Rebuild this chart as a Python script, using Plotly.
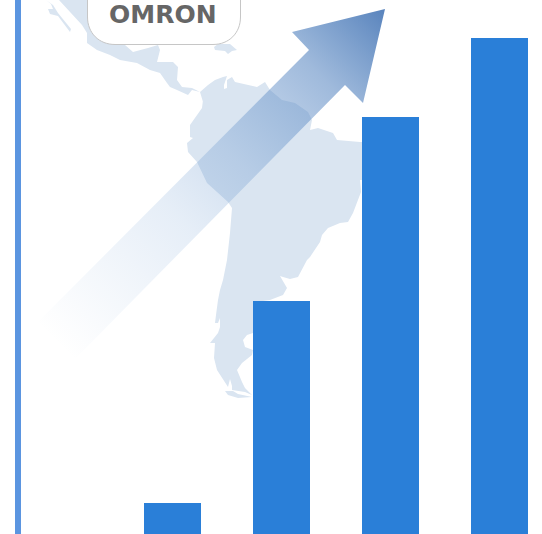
import base64
import plotly.graph_objects as go

WIDTH, HEIGHT = 542, 534

# Bars
categories = ["A", "B", "C", "D"]
values = [31, 233, 417, 496]
BAR_COLOR = "#2A7FD8"

# Map outlines, in canvas units
mainland_x = [59, 73, 82, 87, 87, 97, 110, 120, 137, 150, 160, 167, 170, 177, 183, 188, 192, 200, 203, 203,
              202, 193, 190, 190, 193, 187, 188, 197, 202, 207, 217, 228, 232, 230, 227, 223, 220, 218, 216, 215,
              218, 220, 220, 218, 214, 210, 215, 214, 217, 222, 226, 228, 230, 232, 232, 245, 252, 245, 242, 237,
              242, 252, 253, 245, 243, 247, 253, 253, 256, 256, 270, 283, 287, 280, 283, 290, 298, 303, 307,
              310, 315, 320, 322, 328, 340, 348, 353, 357, 361, 360, 375, 375, 360, 337, 333, 318, 310, 312, 308,
              295, 282, 270, 265, 257, 247, 235, 232, 227, 227, 224, 224, 227, 223, 215, 208, 203, 200, 192, 182,
              177, 178, 173, 157, 160, 158, 148, 133, 125, 110, 100]
mainland_y = [0, 15, 25, 33, 43, 50, 55, 60, 63, 70, 73, 83, 87, 90, 93, 95, 90, 92, 102, 100,
              108, 120, 125, 137, 138, 143, 152, 162, 173, 183, 192, 202, 208, 233, 260, 280, 290, 300, 315, 323,
              323, 318, 327, 333, 338, 343, 343, 358, 370, 378, 385, 387, 379, 386, 390, 392, 395, 388, 382, 370,
              363, 355, 350, 347, 340, 335, 333, 325, 322, 302, 300, 295, 288, 276, 277, 279, 277, 268, 260,
              257, 250, 242, 235, 228, 223, 222, 213, 202, 192, 180, 180, 142, 142, 140, 133, 128, 130, 120, 112,
              103, 100, 90, 82, 87, 85, 82, 77, 80, 88, 89, 85, 76, 77, 80, 85, 90, 92, 88, 87,
              80, 67, 62, 62, 50, 45, 48, 52, 45, 20, 0]
baja_x = [46, 53, 58, 71, 70, 63, 58, 50, 48, 53, 51]
baja_y = [0, 5, 13, 29, 32, 23, 16, 14, 9, 9, 4]
cuba_x = [214, 218, 230, 237, 232, 228, 225, 215]
cuba_y = [47, 44, 44, 50, 51, 54, 51, 50]
fuego_x = [225, 233, 238, 252, 238, 228]
fuego_y = [391, 391, 394, 397, 398, 395]
MAP_COLOR = "#DAE5F1"

# Growth arrow and its fade from tail to tip
arrow_x = [38, 309, 292, 385, 363, 345, 72]
arrow_y = [322, 50, 32, 9, 103, 85, 362]
ARROW_TAIL = (55, 341)
ARROW_TIP = (385, 9)
fade_offsets = [0.0, 0.37, 0.55, 0.80, 1.0]
fade_colors = ["#6C9BD2", "#6C9BD2", "#6492CB", "#5A88C2", "#507DB9"]
fade_opacity = [0.0, 0.17, 0.30, 0.58, 0.95]

stops = "".join(
    f'<stop offset="{o}" stop-color="{c}" stop-opacity="{a}"/>'
    for o, c, a in zip(fade_offsets, fade_colors, fade_opacity)
)
points = " ".join(f"{x},{y}" for x, y in zip(arrow_x, arrow_y))
arrow_svg = (
    f'<svg xmlns="http://www.w3.org/2000/svg" width="{WIDTH}" height="{HEIGHT}" viewBox="0 0 {WIDTH} {HEIGHT}">'
    f'<defs><linearGradient id="fade" gradientUnits="userSpaceOnUse" x1="{ARROW_TAIL[0]}" y1="{ARROW_TAIL[1]}" '
    f'x2="{ARROW_TIP[0]}" y2="{ARROW_TIP[1]}">{stops}</linearGradient></defs>'
    f'<polygon points="{points}" fill="url(#fade)"/></svg>'
)
arrow_uri = "data:image/svg+xml;base64," + base64.b64encode(arrow_svg.encode()).decode()

fig = go.Figure()

for xs, ys in [(mainland_x, mainland_y), (baja_x, baja_y), (cuba_x, cuba_y), (fuego_x, fuego_y)]:
    fig.add_trace(go.Scatter(x=xs, y=ys, mode="lines", fill="toself", fillcolor=MAP_COLOR,
                             line=dict(width=0), hoverinfo="skip", xaxis="x", yaxis="y"))

# Bars sit on an overlaid subplot so they stay above the map
fig.add_trace(go.Bar(x=categories, y=values, marker=dict(color=BAR_COLOR, line=dict(width=0)),
                     hoverinfo="skip", xaxis="x2", yaxis="y2"))

hidden = dict(visible=False, showgrid=False, zeroline=False, fixedrange=True)
fig.update_layout(
    width=WIDTH, height=HEIGHT, autosize=False,
    margin=dict(l=0, r=0, t=0, b=0),
    paper_bgcolor="white", plot_bgcolor="rgba(0,0,0,0)",
    showlegend=False, bargap=0.477,
    xaxis=dict(range=[0, WIDTH], domain=[0, 1], **hidden),
    yaxis=dict(range=[HEIGHT, 0], domain=[0, 1], **hidden),
    xaxis2=dict(type="category", categoryorder="array", categoryarray=categories,
                range=[-172.5 / 109, (WIDTH - 172.5) / 109], overlaying="x", anchor="y2", **hidden),
    yaxis2=dict(range=[0, HEIGHT], overlaying="y", anchor="x2", **hidden),
    images=[
        dict(source=arrow_uri, xref="x", yref="y", x=0, y=0, sizex=WIDTH, sizey=HEIGHT,
             sizing="stretch", xanchor="left", yanchor="top", layer="above"),
    ],
    shapes=[
        # Left rule
        dict(type="rect", xref="x", yref="y", x0=15, x1=21, y0=0, y1=HEIGHT,
             fillcolor="#5B95E0", line=dict(width=0), layer="above"),
        # Logo plate, running off the top edge
        dict(type="path", xref="x", yref="y", layer="above",
             path="M 87.5 -10 L 87.5 17 C 87.5 33 99 44.5 115 44.5 L 213 44.5 C 229 44.5 240.5 33 240.5 17 L 240.5 -10 Z",
             fillcolor="white", line=dict(color="#C6C6C6", width=1)),
    ],
    annotations=[
        dict(text="<b>OMRON</b>", x=162.5, y=0, xref="x", yref="y", showarrow=False,
             xanchor="center", yanchor="top", borderpad=0, borderwidth=0,
             font=dict(family="DejaVu Sans", size=25, color="#666666")),
    ],
)

fig.write_html("out.html", config=dict(displayModeBar=False))
